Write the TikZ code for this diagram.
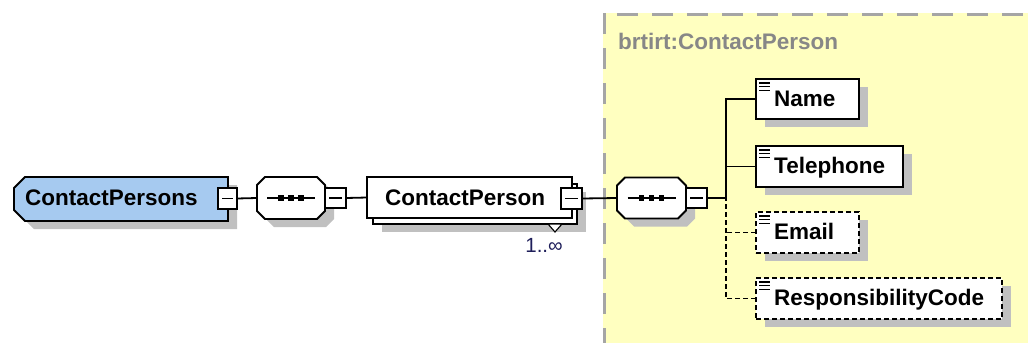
\documentclass[tikz,border=0pt]{standalone}
\usepackage{fontspec}
\setmainfont{Liberation Sans}
\definecolor{cpblue}{RGB}{166,202,240}
\definecolor{shad}{RGB}{192,192,192}
\definecolor{ylw}{RGB}{255,255,192}
\definecolor{dgray}{RGB}{165,165,165}
\definecolor{labgray}{RGB}{135,135,135}
\definecolor{multc}{RGB}{30,30,90}
\pgfdeclarelayer{back}
\pgfdeclarelayer{shadowlayer}
\pgfsetlayers{back,shadowlayer,main}
\newcommand\chamL[3]{([shift={(#2+11,#3)}]#1.north west) -- ([shift={(#2,#3)}]#1.north east) -- ([shift={(#2,#3)}]#1.south east) -- ([shift={(#2+11,#3)}]#1.south west) -- ([shift={(#2,#3-11)}]#1.south west) -- ([shift={(#2,#3+11)}]#1.north west) -- cycle}
\newcommand\octo[3]{([shift={(#2+8,#3)}]#1.north west) -- ([shift={(#2-8,#3)}]#1.north east) -- ([shift={(#2,#3+8)}]#1.north east) -- ([shift={(#2,#3-8)}]#1.south east) -- ([shift={(#2-8,#3)}]#1.south east) -- ([shift={(#2+8,#3)}]#1.south west) -- ([shift={(#2,#3-8)}]#1.south west) -- ([shift={(#2,#3+8)}]#1.north west) -- cycle}
\newcommand\docicon[1]{\foreach \k in {0,1,2}{\draw[line width=1.1pt] ([shift={(3,4+3.6*\k)}]#1.north west) -- ++(11,0);}}
\newcommand\seqicon[1]{\draw[line width=1.5pt] ([shift={(-24,0)}]#1.center) -- ([shift={(24,0)}]#1.center);
  \foreach \k in {-10,0,10}{\fill ([shift={(\k-2.7,-2.7)}]#1.center) rectangle ([shift={(\k+2.7,2.7)}]#1.center);}}
\newcommand\boxshadow[1]{\begin{pgfonlayer}{shadowlayer}\fill[shad] ([shift={(9,8)}]#1.north west) rectangle ([shift={(9,8)}]#1.south east);\end{pgfonlayer}}
\newcommand\minussign[1]{\draw[line width=1.6pt] ([xshift=4pt]#1.west) -- ([xshift=-4pt]#1.east);}
\tikzset{
  hit/.style={inner sep=0pt, outer sep=0pt, anchor=north west},
  boxl/.style={line width=1.8pt, draw=black},
  elem/.style={draw, line width=1.8pt, fill=white, inner sep=0pt, outer sep=0pt, anchor=north west},
  elemopt/.style={elem, line width=1.6pt, dash pattern=on 5pt off 3pt},
  minus/.style={draw, fill=white, line width=1.5pt, inner sep=0pt, outer sep=0pt, anchor=north west,
    minimum width=20pt, minimum height=20pt},
  conn/.style={line width=1.8pt},
  connopt/.style={line width=1.6pt, dash pattern=on 5pt off 3pt},
  etext/.style={font=\bfseries\fontsize{22.5}{26}\selectfont, anchor=base west, inner sep=0pt},
}
\begin{document}
\begin{tikzpicture}[x=1pt,y=-1pt]
\useasboundingbox (0,0) rectangle (1028,346);
% yellow complex type area
\begin{pgfonlayer}{back}
\fill[ylw] (603,13) rectangle (1028,343);
\draw[dgray, line width=3pt, dash pattern=on 21pt off 14pt] (604,13) -- (604,343);
\draw[dgray, line width=3pt, dash pattern=on 21pt off 14pt] (617,14.5) -- (1028,14.5);
\end{pgfonlayer}
\node[etext, text=labgray] (ctl) at (618,49) {brtirt:ContactPerson};

% ContactPersons
\node[hit, minimum width=214pt, minimum height=44pt] (cps) at (14,177) {};
\begin{pgfonlayer}{shadowlayer}\fill[shad] \chamL{cps}{9}{8};\end{pgfonlayer}
\filldraw[boxl, fill=cpblue] \chamL{cps}{0}{0};
\node[etext] (cpsT) at (25,205.5) {ContactPersons};
\node[minus, minimum width=19pt, minimum height=21pt] (cpsM) at (218,188) {};
\minussign{cpsM}

% sequence A
\node[hit, minimum width=68pt, minimum height=42pt] (seqA) at (257,177) {};
\begin{pgfonlayer}{shadowlayer}\fill[shad] \octo{seqA}{9}{8};\end{pgfonlayer}
\filldraw[boxl, fill=white] \octo{seqA}{0}{0};
\seqicon{seqA}
\node[minus, minimum width=21pt] (seqAM) at (325,188) {};
\minussign{seqAM}

% ContactPerson (repeated)
\node[hit, minimum width=204pt, minimum height=40pt] (cpB) at (373,184) {};
\node[hit, minimum width=205pt, minimum height=41pt] (cp) at (367,177) {};
\boxshadow{cpB}
\filldraw[boxl, fill=white] (cpB.north west) rectangle (cpB.south east);
\filldraw[boxl, fill=white] (cp.north west) rectangle (cp.south east);
\filldraw[fill=white, line width=1.1pt] ([shift={(-29,0)}]cpB.south east) -- ([shift={(-15,0)}]cpB.south east) -- ([shift={(-22,8)}]cpB.south east) -- cycle;
\node[etext] (cpT) at (385,205) {ContactPerson};
\node[minus, minimum width=21pt, minimum height=21pt] (cpM) at (561,188) {};
\minussign{cpM}
\node[anchor=base east, inner sep=0pt, font=\fontsize{20.5}{24}\selectfont, text=multc] (mlt) at (563,252) {1..∞};

% sequence B
\node[hit, minimum width=69pt, minimum height=41pt] (seqB) at (617,177.5) {};
\begin{pgfonlayer}{shadowlayer}\fill[shad] \octo{seqB}{9}{8};\end{pgfonlayer}
\filldraw[boxl, fill=white] \octo{seqB}{0}{0};
\seqicon{seqB}
\node[minus, minimum width=21pt] (seqBM) at (686,188) {};
\minussign{seqBM}
\coordinate (tr) at (726,198);

% child elements
\node[elem, minimum width=103pt, minimum height=40pt] (name) at (756,79) {};
\node[elem, minimum width=147pt, minimum height=41pt] (tel) at (756,146) {};
\node[elemopt, minimum width=103pt, minimum height=41pt] (email) at (756,212) {};
\node[elemopt, minimum width=246pt, minimum height=41pt] (resp) at (756,278) {};
\boxshadow{name}\boxshadow{tel}\boxshadow{email}\boxshadow{resp}
\docicon{name}\docicon{tel}\docicon{email}\docicon{resp}
\node[etext] (nameT) at ([shift={(18,7.5)}]name.west) {Name};
\node[etext] (telT) at ([shift={(18,7)}]tel.west) {Telephone};
\node[etext] (emailT) at ([shift={(18,7)}]email.west) {Email};
\node[etext] (respT) at ([shift={(18,7)}]resp.west) {ResponsibilityCode};

% connectors
\draw[conn] (cpsM.east) -- (seqA.west);
\draw[conn] (seqAM.east) -- (cp.west);
\draw[conn] (cpM.east) -- (seqB.west);
\draw[conn] (seqBM.east) -- (tr);
\draw[conn] (name.west) -| (tr);
\draw[conn] (tel.west) -- (tel.west -| tr);
\draw[connopt] (resp.west) -| (tr);
\draw[connopt] (email.west) -- (email.west -| tr);
\end{tikzpicture}
\end{document}
